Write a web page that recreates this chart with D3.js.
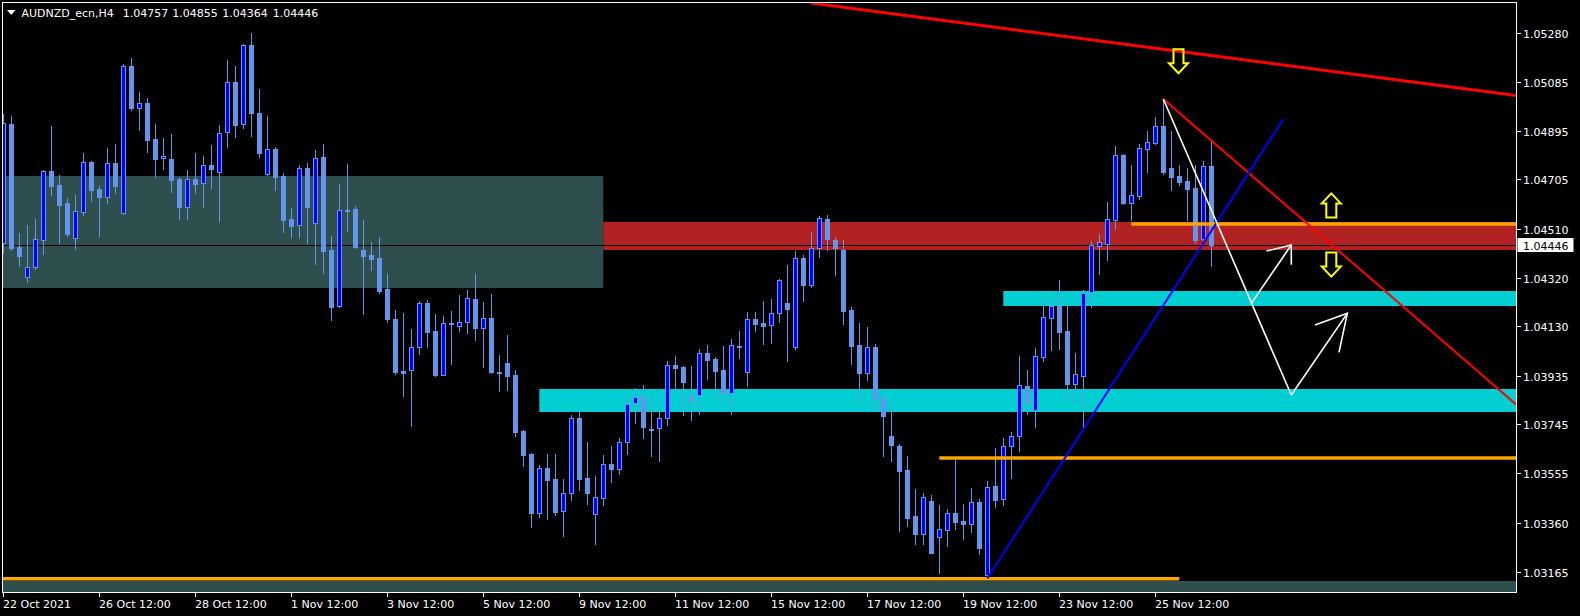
<!DOCTYPE html>
<html><head><meta charset="utf-8">
<script src="https://cdn.jsdelivr.net/npm/d3@7"></script>
<style>
html,body{margin:0;padding:0;background:#000;overflow:hidden}
svg{display:block}
text{font-family:"DejaVu Sans",sans-serif;font-size:11px;fill:#fff}
</style>
</head><body>
<svg id="chart" width="1580" height="616"></svg>
<script>
// ---------- DATA ----------
const headerSymbol = "AUDNZD_ecn,H4";
const headerValues = ["1.04757", "1.04855", "1.04364", "1.04446"];
const currentPrice = 1.04446;

const opens = [
1.04454,1.04922,1.04440,1.04321,1.04363,1.04466,1.04736,1.04683,1.04612,1.04476,
1.04578,1.04772,1.04667,1.04637,1.04768,1.04572,1.05148,1.04986,1.05005,1.04863,
1.04787,1.04785,1.04706,1.04598,1.04706,1.04689,1.04761,1.04735,1.04889,1.05085,
1.04923,1.05232,1.04965,1.04725,1.04824,1.04718,1.04550,1.04525,1.04749,1.04536,
1.04793,1.04428,1.04210,1.04587,1.04589,1.04428,1.04408,1.04397,1.04275,1.04158,
1.03953,1.03959,1.04049,1.04220,1.04111,1.03939,1.04142,1.04131,1.04147,1.04236,
1.04124,1.04162,1.03951,1.03985,1.03938,1.03719,1.03628,1.03398,1.03573,1.03530,
1.03406,1.03477,1.03769,1.03534,1.03394,1.03455,1.03590,1.03570,1.03674,1.03827,
1.03854,1.03725,1.03729,1.03768,1.03976,1.03969,1.03857,1.03858,1.04023,1.04001,
1.03958,1.03866,1.04053,1.03951,1.04156,1.04141,1.04133,1.04180,1.04220,1.04049,
1.04395,1.04292,1.04435,1.04550,1.04467,1.04428,1.04193,1.04056,1.03947,1.04048,
1.03848,1.03699,1.03660,1.03566,1.03385,1.03316,1.03444,1.03304,1.03332,1.03397,
1.03366,1.03355,1.03440,1.03154,1.03503,1.03452,1.03662,1.03701,1.03895,1.03803,
1.04010,1.04163,1.04209,1.04110,1.03903,1.03935,1.04265,1.04445,1.04453,1.04547,
1.04801,1.04612,1.04641,1.04825,1.04849,1.04914,1.04748,1.04718,1.04699,1.04672,
1.04470,1.04757];
const highs = [
1.04961,1.04952,1.04493,1.04526,1.04548,1.04742,1.04914,1.04722,1.04632,1.04644,
1.04808,1.04777,1.04679,1.04828,1.04844,1.05157,1.05181,1.05047,1.05024,1.04922,
1.04867,1.04883,1.04716,1.04742,1.04808,1.04797,1.04840,1.04918,1.05173,1.05149,
1.05236,1.05279,1.05059,1.04953,1.04833,1.04730,1.04593,1.04761,1.04768,1.04820,
1.04844,1.04483,1.04688,1.04765,1.04601,1.04546,1.04459,1.04479,1.04334,1.04193,
1.04182,1.04118,1.04228,1.04232,1.04177,1.04169,1.04189,1.04252,1.04271,1.04334,
1.04224,1.04256,1.04016,1.04095,1.03958,1.03721,1.03631,1.03584,1.03628,1.03628,
1.03530,1.03781,1.03801,1.03675,1.03542,1.03625,1.03660,1.03691,1.03860,1.03887,
1.03899,1.03856,1.03801,1.03992,1.04012,1.03973,1.03973,1.04040,1.04056,1.04009,
1.04052,1.04079,1.04111,1.04185,1.04185,1.04228,1.04236,1.04314,1.04369,1.04424,
1.04409,1.04499,1.04562,1.04565,1.04479,1.04467,1.04205,1.04142,1.04126,1.04060,
1.03864,1.03834,1.03668,1.03620,1.03491,1.03475,1.03468,1.03429,1.03413,1.03605,
1.03432,1.03495,1.03452,1.03522,1.03652,1.03690,1.03714,1.04012,1.03958,1.04044,
1.04244,1.04235,1.04310,1.04228,1.04024,1.04271,1.04463,1.04491,1.04616,1.04836,
1.04804,1.04761,1.04842,1.04895,1.04950,1.05020,1.04895,1.04761,1.04750,1.04761,
1.04777,1.04855];
const lows = [
1.04418,1.04428,1.04367,1.04304,1.04355,1.04412,1.04644,1.04457,1.04484,1.04433,
1.04567,1.04620,1.04483,1.04614,1.04651,1.04569,1.04978,1.04898,1.04814,1.04716,
1.04747,1.04655,1.04550,1.04550,1.04653,1.04598,1.04672,1.04543,1.04833,1.04872,
1.04908,1.04876,1.04794,1.04722,1.04665,1.04500,1.04480,1.04480,1.04457,1.04374,
1.04339,1.04153,1.04206,1.04504,1.04436,1.04178,1.04351,1.04261,1.04146,1.03942,
1.03856,1.03738,1.04020,1.04048,1.03934,1.03937,1.03981,1.04111,1.04103,1.04075,
1.03969,1.03947,1.03875,1.03879,1.03699,1.03581,1.03342,1.03381,1.03373,1.03389,
1.03307,1.03448,1.03487,1.03432,1.03276,1.03430,1.03520,1.03550,1.03630,1.03751,
1.03692,1.03620,1.03600,1.03743,1.03866,1.03781,1.03762,1.03785,1.03922,1.03849,
1.03827,1.03785,1.04006,1.03895,1.04111,1.04060,1.04064,1.04146,1.03993,1.04040,
1.04230,1.04284,1.04402,1.04430,1.04330,1.04138,1.03981,1.03835,1.03918,1.03807,
1.03620,1.03602,1.03328,1.03347,1.03277,1.03277,1.03239,1.03163,1.03269,1.03336,
1.03296,1.03324,1.03238,1.03141,1.03421,1.03430,1.03534,1.03641,1.03786,1.03735,
1.03994,1.04036,1.04040,1.03844,1.03832,1.03735,1.04206,1.04334,1.04389,1.04510,
1.04608,1.04546,1.04629,1.04734,1.04844,1.04726,1.04663,1.04683,1.04546,1.04457,
1.04461,1.04364];
const closes = [
1.04925,1.04436,1.04406,1.04363,1.04470,1.04736,1.04680,1.04606,1.04491,1.04580,
1.04772,1.04663,1.04637,1.04768,1.04680,1.05148,1.04986,1.05003,1.04861,1.04786,
1.04795,1.04704,1.04598,1.04705,1.04688,1.04760,1.04747,1.04885,1.05085,1.04919,
1.05232,1.04967,1.04810,1.04823,1.04716,1.04547,1.04523,1.04748,1.04598,1.04787,
1.04425,1.04206,1.04587,1.04586,1.04440,1.04406,1.04394,1.04268,1.04159,1.03950,
1.03948,1.04050,1.04220,1.04107,1.03938,1.04141,1.04143,1.04148,1.04239,1.04124,
1.04160,1.03950,1.03950,1.03934,1.03715,1.03625,1.03397,1.03572,1.03526,1.03401,
1.03474,1.03769,1.03530,1.03475,1.03462,1.03590,1.03570,1.03674,1.03823,1.03854,
1.03735,1.03724,1.03768,1.03976,1.03967,1.03912,1.03837,1.04023,1.03998,1.03955,
1.03867,1.04054,1.04052,1.04156,1.04139,1.04131,1.04180,1.04310,1.04198,1.04395,
1.04292,1.04435,1.04552,1.04473,1.04437,1.04190,1.04053,1.03947,1.04047,1.03843,
1.03779,1.03665,1.03563,1.03379,1.03316,1.03460,1.03241,1.03333,1.03397,1.03363,
1.03355,1.03440,1.03261,1.03499,1.03448,1.03662,1.03701,1.03901,1.03833,1.04011,
1.04164,1.04207,1.04107,1.03903,1.03941,1.04258,1.04448,1.04458,1.04548,1.04801,
1.04611,1.04642,1.04827,1.04850,1.04913,1.04735,1.04716,1.04696,1.04669,1.04468,
1.04756,1.04446];

const priceTicks = [1.05280,1.05085,1.04895,1.04705,1.04510,1.04320,1.04130,1.03935,1.03745,1.03555,1.03360,1.03165];
const dateLabels = ["22 Oct 2021","26 Oct 12:00","28 Oct 12:00","1 Nov 12:00","3 Nov 12:00","5 Nov 12:00","9 Nov 12:00","11 Nov 12:00","15 Nov 12:00","17 Nov 12:00","19 Nov 12:00","23 Nov 12:00","25 Nov 12:00"];
const dateLabelBars = [0,12,24,36,48,60,72,84,96,108,120,132,144];

// zones: [barFrom, barTo, priceTop, priceBottom]
const slateZone = [-20, 75, 1.04718, 1.04280];
const redZone = [75, 200, 1.04538, 1.04428];
const cyanZoneLow = [67, 200, 1.03883, 1.03794];
const cyanZoneHigh = [125, 200, 1.04267, 1.04209];
const bottomZone = [-20, 200, 1.03131, 1.02800];
// horizontal levels: [barFrom, barTo, price]
const orangeLevels = [[141, 200, 1.04530], [117, 200, 1.03613], [-20, 147, 1.03140]];
// trend lines: [[bar, price], [bar, price]]
const redTrendTop = [[101, 1.05396], [189.1, 1.05034]];
const redTrendDown = [[145, 1.05020], [189.1, 1.03823]];
const blueTrend = [[123, 1.03141], [160, 1.04941]];
const whiteLegs = [
  [[145, 1.05020], [161, 1.03860]],
  [[156, 1.04219], [161, 1.04448]],
  [[157.9, 1.04424], [161, 1.04448], [161, 1.04370]],
  [[161, 1.03860], [168, 1.04180]],
  [[163.96, 1.04134], [168, 1.04180], [166.96, 1.04027]]
];
// yellow hollow arrows: [bar, price, direction]
const yellowArrows = [[146.9, 1.05219, "down"], [166, 1.04552, "up"], [166, 1.04422, "down"]];

// ---------- DRAW ----------
const W = 1580, H = 616;
const plot = {left: 2, top: 2, right: 1516, bottom: 592};
const svg = d3.select("#chart");
svg.append("rect").attr("width", W).attr("height", H).attr("fill", "#000");

const x = d3.scaleLinear().domain([0, 189]).range([3.3, 1515.3]);
const y = d3.scaleLinear().domain([1.03165, 1.05280]).range([572.3, 32.7]);

svg.append("defs").append("clipPath").attr("id", "clip")
  .append("rect").attr("x", plot.left).attr("y", plot.top)
  .attr("width", plot.right - plot.left).attr("height", plot.bottom - plot.top);

const g = svg.append("g").attr("clip-path", "url(#clip)");

function zone(z, color) {
  const x0 = x(z[0]), x1 = x(z[1]);
  const y0 = Math.round(y(z[2])), y1 = Math.round(y(z[3]));
  g.append("rect").attr("x", x0).attr("y", y0)
    .attr("width", x1 - x0).attr("height", y1 - y0).attr("fill", color);
}
zone(slateZone, "#2F4F4F");
zone(bottomZone, "#2F4F4F");
zone(redZone, "#B22222");
zone(cyanZoneLow, "#00CED1");
zone(cyanZoneHigh, "#00CED1");

// current price line
const cpY = Math.round(y(currentPrice)) + 0.5;
g.append("line").attr("x1", plot.left).attr("x2", plot.right)
  .attr("y1", cpY).attr("y2", cpY).attr("stroke", "#000").attr("stroke-width", 1);

// candles
const candles = opens.map((o, i) => ({i, o, h: highs[i], l: lows[i], c: closes[i]}));
const cg = g.append("g");
candles.forEach(d => {
  const cx = Math.round(x(d.i));
  const yh = Math.round(y(d.h)), yl = Math.round(y(d.l));
  cg.append("line").attr("x1", cx + 0.5).attr("x2", cx + 0.5)
    .attr("y1", yh).attr("y2", yl + 1).attr("stroke", "#6495ED").attr("stroke-width", 1);
  const top = Math.round(y(Math.max(d.o, d.c)));
  const bot = Math.round(y(Math.min(d.o, d.c)));
  if (d.c > d.o) {
    cg.append("rect").attr("x", cx - 1.5).attr("y", top + 0.5)
      .attr("width", 4).attr("height", Math.max(bot - top, 1))
      .attr("fill", "#0000FF").attr("stroke", "#6495ED").attr("stroke-width", 1);
  } else {
    cg.append("rect").attr("x", cx - 2).attr("y", top)
      .attr("width", 5).attr("height", Math.max(bot - top, 1) + 1)
      .attr("fill", "#6495ED");
  }
});

// orange levels
orangeLevels.forEach(l => {
  g.append("line").attr("x1", x(l[0])).attr("x2", x(l[1]))
    .attr("y1", y(l[2])).attr("y2", y(l[2]))
    .attr("stroke", "#FFA500").attr("stroke-width", 3.6);
});

const lineGen = d3.line().x(p => x(p[0])).y(p => y(p[1]));
function extendRay(seg) {
  // extend the segment to the right edge of the plot
  const [a, b] = seg;
  const slope = (b[1] - a[1]) / (b[0] - a[0]);
  const xe = 200;
  return [a, [xe, a[1] + slope * (xe - a[0])]];
}
g.append("path").attr("d", lineGen(extendRay(redTrendTop)))
  .attr("fill", "none").attr("stroke", "#FF0000").attr("stroke-width", 3);
g.append("path").attr("d", lineGen(extendRay(redTrendDown)))
  .attr("fill", "none").attr("stroke", "#FF0000").attr("stroke-width", 2);
g.append("path").attr("d", lineGen(blueTrend))
  .attr("fill", "none").attr("stroke", "#0000FF").attr("stroke-width", 2);
whiteLegs.forEach(seg => {
  g.append("path").attr("d", lineGen(seg))
    .attr("fill", "none").attr("stroke", "#FFFFFF").attr("stroke-width", 1.6)
    .attr("stroke-linejoin", "miter");
});

// yellow hollow arrows
yellowArrows.forEach(a => {
  const cx = x(a[0]), y0 = y(a[1]);
  let d;
  if (a[2] === "down") {
    const t = y0 + 1;
    d = `M${cx-5},${t} L${cx+5},${t} L${cx+5},${t+14} L${cx+9.5},${t+14} L${cx},${t+24} L${cx-9.5},${t+14} L${cx-5},${t+14} Z`;
  } else {
    const b = y0 - 1;
    d = `M${cx-5},${b} L${cx-5},${b-14} L${cx-9.5},${b-14} L${cx},${b-24} L${cx+9.5},${b-14} L${cx+5},${b-14} L${cx+5},${b} Z`;
  }
  g.append("path").attr("d", d).attr("fill", "none")
    .attr("stroke", "#FFFF00").attr("stroke-width", 2).attr("stroke-linejoin", "miter");
});

// frame
svg.append("rect").attr("x", plot.left + 0.5).attr("y", plot.top + 0.5)
  .attr("width", plot.right - plot.left).attr("height", plot.bottom - plot.top)
  .attr("fill", "none").attr("stroke", "#FFFFFF").attr("stroke-width", 1);

// right price axis
const ra = svg.append("g");
priceTicks.forEach(p => {
  const ty = Math.round(y(p)) + 0.5;
  ra.append("line").attr("x1", plot.right + 1).attr("x2", plot.right + 5)
    .attr("y1", ty).attr("y2", ty).attr("stroke", "#FFFFFF");
  ra.append("text").attr("x", 1523).attr("y", ty + 4).text(p.toFixed(5));
});
// current price label
const cpLabelY = Math.round(y(currentPrice));
ra.append("rect").attr("x", 1517.5).attr("y", cpLabelY - 7)
  .attr("width", 56).attr("height", 14).attr("fill", "#FFFFFF");
ra.append("text").attr("x", 1523).attr("y", cpLabelY + 4.5)
  .style("fill", "#000").text(currentPrice.toFixed(5));

// bottom date axis
const ba = svg.append("g");
dateLabelBars.forEach((b, k) => {
  const tx = Math.round(x(b)) + 0.5;
  ba.append("line").attr("x1", tx).attr("x2", tx)
    .attr("y1", plot.bottom + 1).attr("y2", plot.bottom + 5).attr("stroke", "#FFFFFF");
  ba.append("text").attr("x", tx - 0.5).attr("y", 608).text(dateLabels[k]);
});

// header
svg.append("path").attr("d", "M7,10 L15.5,10 L11.25,15 Z").attr("fill", "#FFFFFF");
svg.append("text").attr("x", 21.5).attr("y", 17).text(headerSymbol);
const headerX = [122.7, 172.3, 222.3, 272.7];
headerValues.forEach((v, k) => {
  svg.append("text").attr("x", headerX[k]).attr("y", 17).text(v);
});
</script>
</body></html>
